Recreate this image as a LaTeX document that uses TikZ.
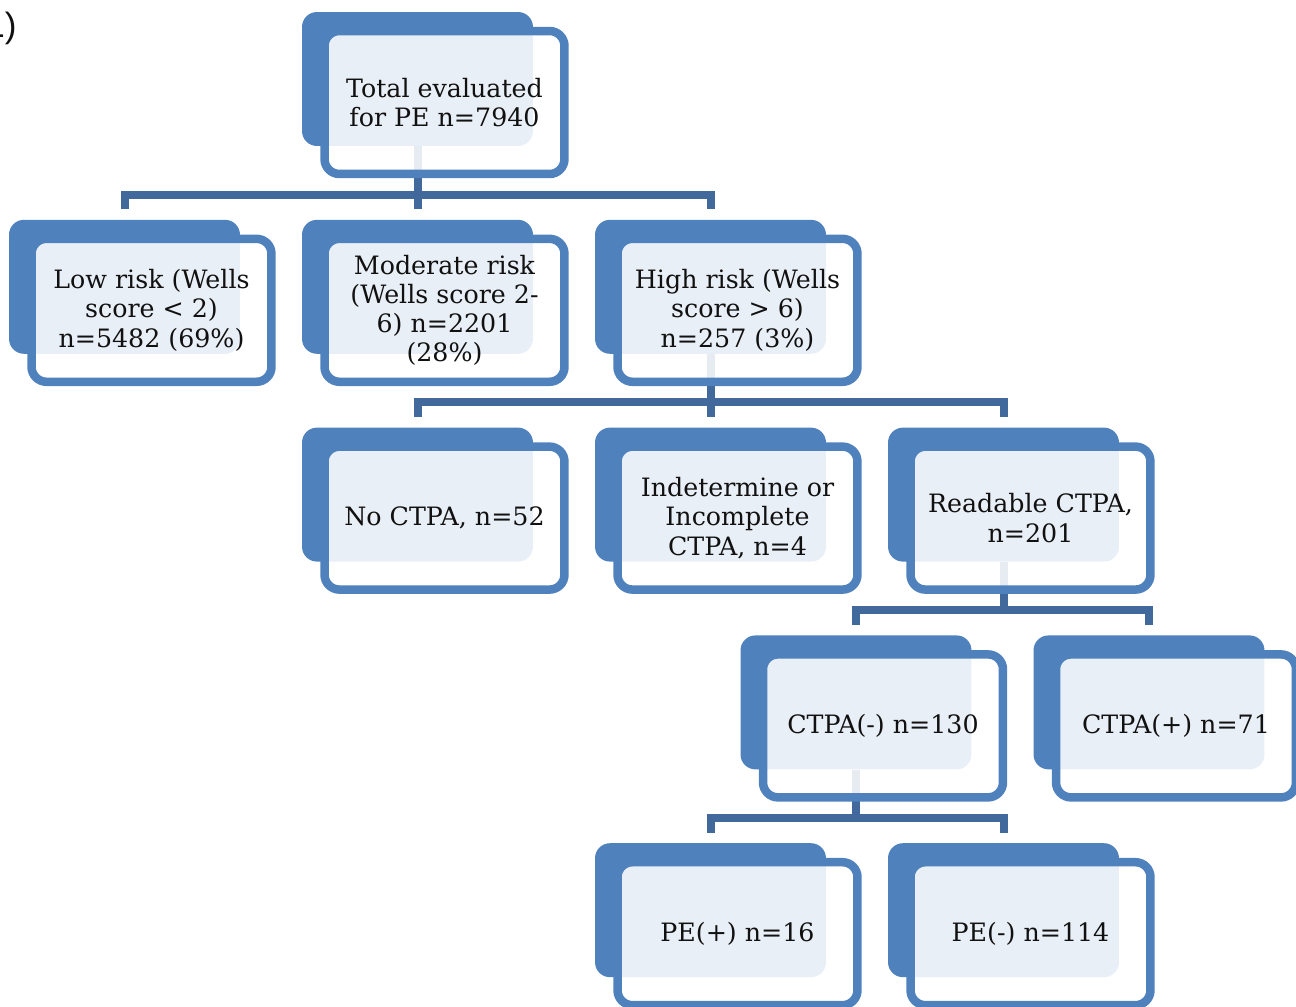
\documentclass[tikz,border=0pt]{standalone}
\usepackage{fontspec}
\setmainfont{DejaVu Serif}
\newfontfamily\tagfont{Liberation Sans}
\usetikzlibrary{backgrounds}
\definecolor{boxblue}{HTML}{4F81BD}
\definecolor{linkblue}{HTML}{41699C}
\definecolor{inktext}{HTML}{111111}
% one box of the chart: solid back card and framed front card
\newcommand{\riskbox}[4]{%
  \node [backbox] (#1) at (#2,#3) {};
  \node [frontbox] (#1f) at ([shift={(27,23.5)}]#1.center) {#4};
}
\begin{document}
\begin{tikzpicture}[x=0.02cm, y=-0.02cm,
  backbox/.style={rectangle, rounded corners=8.5pt, fill=boxblue, inner sep=0pt,
    minimum width=4.62cm, minimum height=2.68cm},
  frontbox/.style={rectangle, rounded corners=8.5pt, draw=boxblue, line width=0.17cm,
    fill=white, fill opacity=0.88, text opacity=1, text=inktext, inner sep=0pt,
    minimum width=4.8cm, minimum height=2.86cm, align=center,
    font=\fontsize{14.4}{16.6}\selectfont},
  link/.style={draw=linkblue, line width=0.16cm}]
\useasboundingbox (0,0) rectangle (1296,1007);
\node [anchor=east, inner sep=0pt, font=\tagfont\fontsize{20}{24}\selectfont, text=inktext] (tag) at (17,28) {1)};

\riskbox{total}{417.5}{79}{Total evaluated\\for PE n=7940}
\riskbox{low}{124.5}{286.8}{Low risk (Wells\\score < 2)\\n=5482 (69\%)}
\riskbox{mod}{417.5}{286.8}{Moderate risk\\(Wells score 2-\\6) n=2201\\(28\%)}
\riskbox{high}{710.5}{286.8}{High risk (Wells\\score > 6)\\n=257 (3\%)}
\riskbox{noct}{417.5}{494.6}{No CTPA, n=52}
\riskbox{indet}{710.5}{494.6}{Indetermine or\\Incomplete\\CTPA, n=4}
\riskbox{read}{1003.5}{494.6}{Readable CTPA,\\n=201}
\riskbox{ctneg}{856}{702.4}{CTPA(-) n=130}
\riskbox{ctpos}{1149}{702.4}{CTPA(+) n=71}
\riskbox{peplus}{710.5}{910.2}{PE(+) n=16}
\riskbox{peminus}{1003.5}{910.2}{PE(-) n=114}

\begin{scope}[on background layer]
% first split
\coordinate (bar1) at ([yshift=14.2pt]mod.north);
\draw [link] (total.south) -- (total.south |- bar1);
\draw [link] ([yshift=5.7pt]low.north) |- (bar1) -| ([yshift=5.7pt]high.north);
\draw [link] (bar1) -- ([yshift=5.7pt]mod.north);
% high risk
\coordinate (bar2) at ([yshift=14.2pt]indet.north);
\draw [link] (high.south) -- (high.south |- bar2);
\draw [link] ([yshift=5.7pt]noct.north) |- (bar2) -| ([yshift=5.7pt]read.north);
\draw [link] (bar2) -- ([yshift=5.7pt]indet.north);
% readable
\coordinate (bar3) at ([yshift=14.2pt]ctneg.north -| read.south);
\draw [link] (read.south) -- (bar3);
\draw [link] ([yshift=5.7pt]ctneg.north) |- (bar3) -| ([yshift=5.7pt]ctpos.north);
% ctpa negative
\coordinate (bar4) at ([yshift=14.2pt]peplus.north -| ctneg.south);
\draw [link] (ctneg.south) -- (bar4);
\draw [link] ([yshift=5.7pt]peplus.north) |- (bar4) -| ([yshift=5.7pt]peminus.north);
\end{scope}
\end{tikzpicture}
\end{document}
